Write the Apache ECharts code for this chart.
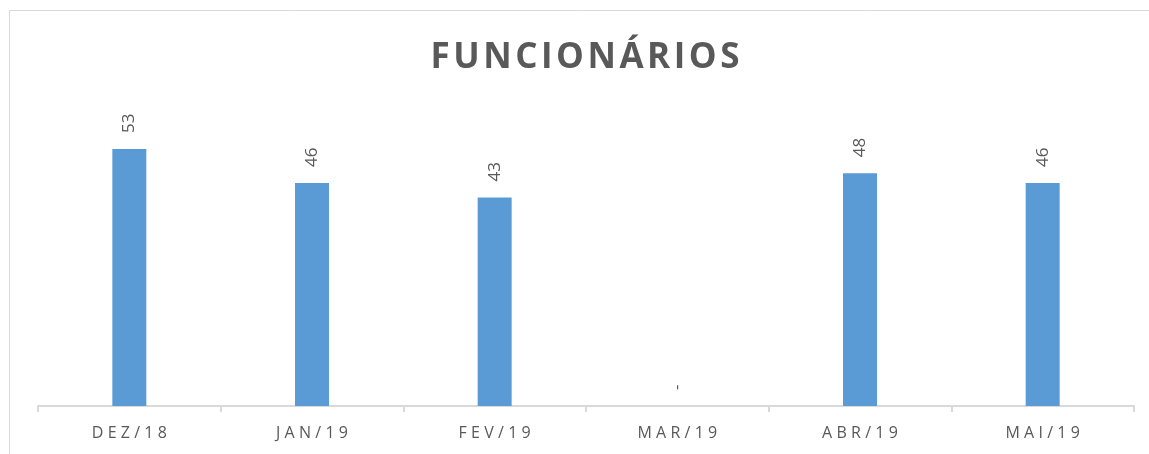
<!DOCTYPE html>
<html>
<head>
<meta charset="utf-8">
<script src="https://cdn.jsdelivr.net/npm/echarts@6/dist/echarts.min.js"></script>
<style>
    html, body { margin: 0; padding: 0; background: #fff; }
    #chart { width: 1149px; height: 454px; }
</style>
</head>
<body>
<div id="chart"></div>
<script>
var titleText = 'FUNCIONÁRIOS';
var months = ['DEZ/18', 'JAN/19', 'FEV/19', 'MAR/19', 'ABR/19', 'MAI/19'];
var employees = [53, 46, 43, 0, 48, 46];

// espaçamento entre letras (canvas não tem letter-spacing)
function spaced(s, sep) {
    return s.split('').join(sep);
}

var chart = echarts.init(document.getElementById('chart'));
var option = {
    animation: false,
    title: {
        text: spaced(titleText, '\u200A'),
        left: 580,
        textAlign: 'center',
        top: 36,
        textStyle: {
            fontFamily: 'Open Sans',
            fontWeight: 'bold',
            fontSize: 35,
            color: '#595959'
        }
    },
    graphic: [{
        type: 'rect',
        shape: { x: 9.5, y: 10.5, width: 1160, height: 460 },
        style: { fill: 'none', stroke: '#d9d9d9', lineWidth: 1 },
        silent: true
    }],
    grid: {
        left: 38,
        right: 15,
        top: 115,
        bottom: 48
    },
    xAxis: {
        type: 'category',
        data: months,
        axisLine: { lineStyle: { color: '#d9d9d9', width: 2 } },
        axisTick: { show: true, length: 6, lineStyle: { color: '#d9d9d9', width: 2 } },
        axisLabel: {
            margin: 19,
            fontFamily: 'Open Sans',
            fontSize: 16,
            color: '#595959',
            formatter: function (v) { return spaced(v, '\u2009\u200A'); }
        }
    },
    yAxis: {
        type: 'value',
        min: 0,
        max: 60,
        show: false
    },
    series: [{
        type: 'bar',
        data: employees,
        barWidth: 34,
        itemStyle: { color: '#5b9bd5' },
        label: {
            show: true,
            position: 'top',
            rotate: 90,
            align: 'left',
            verticalAlign: 'middle',
            distance: 16,
            fontFamily: 'Open Sans',
            fontSize: 17,
            color: '#595959',
            formatter: function (p) { return p.value === 0 ? '-' : String(p.value); }
        }
    }]
};
chart.setOption(option);
</script>
</body>
</html>
